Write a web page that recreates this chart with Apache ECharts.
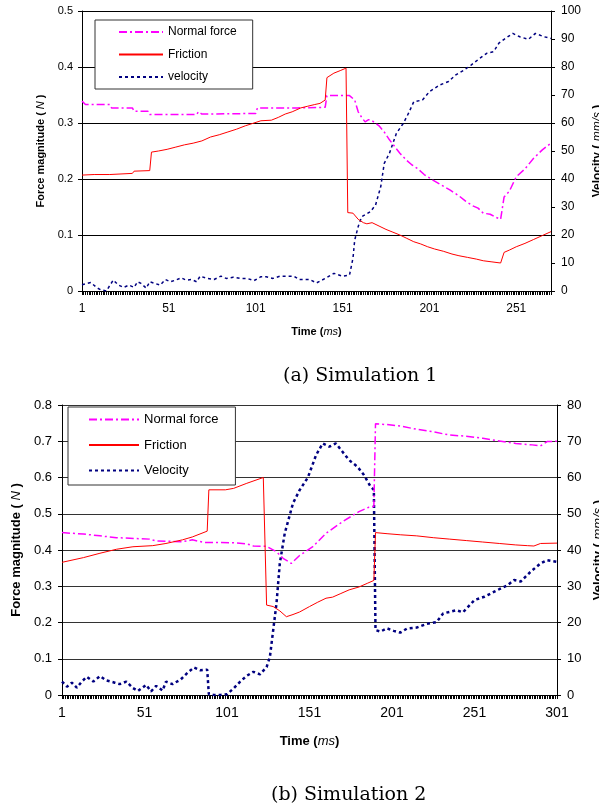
<!DOCTYPE html>
<html>
<head>
<meta charset="utf-8">
<script src="https://cdn.jsdelivr.net/npm/echarts@6/dist/echarts.min.js"></script>
<style>
html,body{margin:0;padding:0;background:#fff;}
#c{width:599px;height:803px;}
</style>
</head>
<body>
<div id="c"></div>
<script>
// ---------- Simulation 1 (time in ms, value) ----------
const sim1LastTime = 271;
const sim1Friction = [[1,0.207],[8,0.208],[17,0.208],[18,0.21],[30,0.21],[31,0.214],[40,0.215],[41,0.248],[45,0.25],[50,0.253],[55,0.257],[60,0.261],[65,0.264],[70,0.268],[75,0.275],[80,0.279],[85,0.284],[90,0.289],[95,0.295],[100,0.3],[104,0.304],[110,0.305],[114,0.31],[118,0.316],[122,0.32],[127,0.327],[131,0.33],[135,0.333],[138,0.335],[141,0.341],[142,0.381],[146,0.389],[150,0.394],[153,0.398],[154,0.14],[157,0.139],[160,0.128],[163,0.122],[165,0.12],[168,0.122],[172,0.116],[176,0.11],[180,0.105],[184,0.1],[188,0.094],[192,0.088],[196,0.084],[200,0.079],[204,0.075],[209,0.071],[214,0.066],[218,0.063],[223,0.06],[228,0.057],[232,0.054],[237,0.052],[242,0.05],[243,0.051],[244,0.069],[247,0.073],[251,0.079],[256,0.085],[261,0.092],[266,0.099],[271,0.106]];
const sim1Normal = [[1,0.339],[3,0.333],[17,0.333],[18,0.327],[30,0.327],[31,0.321],[39,0.321],[40,0.315],[67,0.315],[68,0.32],[70,0.316],[101,0.317],[102,0.327],[125,0.327],[141,0.328],[142,0.349],[155,0.349],[158,0.341],[160,0.32],[162,0.31],[164,0.302],[166,0.306],[168,0.304],[172,0.295],[175,0.284],[178,0.27],[181,0.258],[184,0.246],[188,0.233],[191,0.225],[194,0.219],[198,0.208],[203,0.198],[208,0.189],[213,0.18],[218,0.17],[222,0.16],[226,0.152],[229,0.148],[232,0.139],[236,0.137],[239,0.132],[242,0.128],[243,0.127],[244,0.168],[247,0.178],[251,0.204],[256,0.218],[261,0.237],[266,0.252],[271,0.264]];
const sim1Velocity = [[1,2.2],[6,3],[10,1],[12,0.4],[15,0],[19,3.9],[22,2.1],[25,1.3],[28,2.1],[31,1.3],[33,3.3],[35,2.7],[38,1],[40,3.3],[43,2.7],[46,2.1],[49,4.1],[52,3.3],[55,3.9],[58,4.7],[61,3.9],[64,4.1],[67,3.3],[69,5.3],[73,4.5],[77,4.1],[81,5.3],[84,4.5],[88,4.9],[92,4.5],[96,4.5],[100,3.7],[104,5.1],[107,5.1],[111,4.5],[115,5.3],[119,5.3],[123,5.3],[126,4.1],[132,4.1],[136,2.9],[141,4.5],[146,6.3],[151,5.3],[155,5.7],[157,11.7],[158,18.2],[160,23],[162,26.5],[167,28.3],[170,30.7],[173,37.3],[175,45.6],[178,49.2],[182,56.3],[186,59.9],[189,63.5],[192,67.6],[197,68.2],[201,71.2],[207,73.6],[212,74.8],[216,77.1],[221,78.9],[225,80.7],[230,83.1],[234,84.9],[238,85.5],[241,88.5],[244,89.9],[249,92],[253,90.8],[258,89.9],[262,92],[267,90.8],[271,90.2]];

// ---------- Simulation 2 ----------
const sim2LastTime = 301;
const sim2Friction = [[1,0.366],[14,0.379],[24,0.391],[34,0.402],[44,0.409],[56,0.412],[64,0.418],[74,0.428],[80,0.436],[89,0.452],[90,0.566],[100,0.566],[105,0.57],[113,0.584],[123,0.6],[125,0.248],[129,0.244],[133,0.232],[137,0.216],[141,0.222],[145,0.229],[151,0.244],[156,0.256],[161,0.267],[165,0.27],[170,0.28],[175,0.29],[181,0.298],[186,0.308],[190,0.316],[191,0.448],[198,0.445],[206,0.442],[216,0.439],[226,0.434],[236,0.43],[246,0.426],[256,0.422],[266,0.418],[276,0.414],[283,0.412],[287,0.411],[291,0.418],[301,0.419]];
const sim2Normal = [[1,0.448],[14,0.444],[24,0.439],[34,0.434],[54,0.43],[58,0.425],[74,0.423],[80,0.428],[87,0.421],[105,0.42],[113,0.417],[117,0.411],[125,0.41],[131,0.395],[135,0.377],[140,0.363],[145,0.385],[153,0.409],[161,0.446],[171,0.478],[181,0.506],[187,0.518],[190,0.52],[191,0.748],[198,0.746],[206,0.742],[216,0.733],[226,0.726],[236,0.717],[246,0.714],[256,0.708],[266,0.701],[276,0.694],[286,0.69],[291,0.687],[295,0.699],[301,0.7]];
const sim2Velocity = [[1,3.7],[4,2.3],[7,3.4],[10,2],[13,3.7],[16,5],[20,3.7],[24,5.2],[28,4],[33,3.4],[36,3],[40,3.7],[44,1.9],[47,1.1],[52,2.8],[55,1],[58,2.5],[62,1.2],[64,3.7],[68,3],[73,4.3],[77,6.1],[81,7.6],[85,6.8],[89,7],[90,0.2],[93,0],[97,0],[101,0.2],[105,1.8],[109,3.7],[113,5.3],[117,6.4],[121,5.7],[125,7.7],[127,10.5],[129,17.9],[131,25.3],[133,36.3],[136,44.6],[141,52.9],[145,56.5],[150,60],[155,66.2],[159,69.4],[163,68.5],[167,69.4],[171,67.1],[175,64.8],[180,63],[184,60.7],[188,57.5],[190,56.6],[191,17.9],[194,17.5],[198,18.4],[202,17.7],[206,17.2],[210,18.3],[216,18.6],[222,19.6],[228,20.1],[232,22.5],[240,23.4],[244,22.8],[251,26.2],[257,27.1],[263,28.5],[271,30.3],[275,31.7],[279,31.3],[285,34],[291,36.3],[295,37.2],[301,36.7]];

const forceTicks1 = {min:0, max:0.5, interval:0.1};
const velTicks1 = {min:0, max:100, interval:10};
const forceTicks2 = {min:0, max:0.8, interval:0.1};
const velTicks2 = {min:0, max:80, interval:10};
const labelEvery = 50;

// ---------- build ----------
function cats(n){ const a=[]; for(let t=1;t<=n;t++) a.push(String(t)); return a; }
function pts(arr){ return arr.map(p => [String(p[0]), p[1]]); }

const FONT = 'Liberation Sans, Arial, sans-serif';
const MAG = '#ff00ff', RED = '#ff0000', NAVY = '#000080';

function xAxisDef(gi, n, fs, margin, gap){
  return {
    type:'category', gridIndex:gi, data:cats(n), boundaryGap:false,
    axisLine:{lineStyle:{color:'#000', width:1}},
    axisTick:{show:true, interval:0, length:4, lineStyle:{color:'#000', width:1}},
    axisLabel:{interval:(i)=> i % labelEvery === 0, color:'#000', fontSize:fs, fontFamily:FONT, margin:margin},
    splitLine:{show:false},
    name:'Time ({i|ms})', nameLocation:'middle', nameGap:gap,
    nameTextStyle:{color:'#000', fontWeight:'bold', fontSize:fs-1, fontFamily:FONT,
      rich:{i:{fontStyle:'italic', fontWeight:'normal', fontSize:fs-1, fontFamily:FONT, color:'#000'}}}
  };
}
function yAxisDef(gi, ticks, pos, fs, margin, name, gap, split, gridColor){
  return {
    type:'value', gridIndex:gi, position:pos, min:ticks.min, max:ticks.max, interval:ticks.interval,
    axisLine:{show:true, lineStyle:{color:'#000', width:1}},
    axisTick:{show:true, length:4, lineStyle:{color:'#000'}},
    axisLabel:{color:'#000', fontSize:fs, fontFamily:FONT, margin:margin},
    splitLine:{show:split, lineStyle:{color:gridColor, width:1}},
    name:name, nameLocation:'middle', nameGap:gap,
    nameTextStyle:{color:'#000', fontWeight:'bold', fontSize:fs, fontFamily:FONT,
      rich:{i:{fontStyle:'italic', fontWeight:'normal', fontSize:fs, fontFamily:FONT, color:'#000'}}}
  };
}
function lineSeries(name, xi, yi, data, color, width, dash, z){
  return {name:name, type:'line', xAxisIndex:xi, yAxisIndex:yi, data:pts(data),
    symbol:'none', showSymbol:false,
    lineStyle:{color:color, width:width, type:dash}, itemStyle:{color:color}, z:z,
    emphasis:{disabled:true}};
}
const hiddenLegendSymbol = {opacity:0, color:'rgba(0,0,0,0)', borderColor:'rgba(0,0,0,0)', borderWidth:0};

const chart = echarts.init(document.getElementById('c'), null, {renderer:'canvas'});
chart.setOption({
  backgroundColor:'#fff',
  animation:false,
  title:[
    {text:'(a) Simulation 1', left:278, top:362, textStyle:{fontFamily:'DejaVu Serif', fontSize:19, fontWeight:'normal', color:'#000'}},
    {text:'(b) Simulation 2', left:266, top:781, textStyle:{fontFamily:'DejaVu Serif', fontSize:19, fontWeight:'normal', color:'#000'}}
  ],
  grid:[
    {left:82, top:11, width:469, height:280, containLabel:false, outerBoundsMode:'none'},
    {left:62, top:405, width:495, height:290, containLabel:false, outerBoundsMode:'none'}
  ],
  legend:[
    {data:['Normal force','Friction','velocity'], orient:'vertical', left:95, top:20,
     itemWidth:44, itemHeight:14, itemGap:10.5, padding:[6,16,6,23],
     itemStyle:hiddenLegendSymbol,
     backgroundColor:'#fff', borderColor:'#333', borderWidth:1, borderRadius:0,
     textStyle:{color:'#000', fontSize:12, fontFamily:FONT}},
    {data:['Normal force','Friction','Velocity'], orient:'vertical', left:68, top:407,
     itemWidth:50, itemHeight:14, itemGap:12.5, padding:[6,17,8,20],
     itemStyle:hiddenLegendSymbol,
     backgroundColor:'#fff', borderColor:'#333', borderWidth:1, borderRadius:0,
     textStyle:{color:'#000', fontSize:13, fontFamily:FONT}}
  ],
  xAxis:[
    xAxisDef(0, sim1LastTime, 12, 12, 35),
    xAxisDef(1, sim2LastTime, 14, 11, 40)
  ],
  yAxis:[
    yAxisDef(0, forceTicks1, 'left', 11, 9, 'Force magnitude ( {i|N} )', 35, true, '#000'),
    yAxisDef(0, velTicks1, 'right', 12, 10, 'Velocity ( {i|mm/s} )', 40, false, '#000'),
    yAxisDef(1, forceTicks2, 'left', 13, 10, 'Force magnitude ( {i|N} )', 37, true, '#333'),
    yAxisDef(1, velTicks2, 'right', 13, 10, 'Velocity ( {i|mm/s} )', 32, false, '#333')
  ],
  series:[
    lineSeries('Normal force', 0, 0, sim1Normal, MAG, 1.5, [8,3,2,3], 3),
    lineSeries('Friction', 0, 0, sim1Friction, RED, 1, 'solid', 4),
    lineSeries('velocity', 0, 1, sim1Velocity, NAVY, 1.5, [3,3], 2),
    lineSeries('Normal force', 1, 2, sim2Normal, MAG, 1.5, [8,3,2,3], 3),
    lineSeries('Friction', 1, 2, sim2Friction, RED, 1, 'solid', 4),
    lineSeries('Velocity', 1, 3, sim2Velocity, NAVY, 2.5, [3,3], 2)
  ]
});
</script>
</body>
</html>
